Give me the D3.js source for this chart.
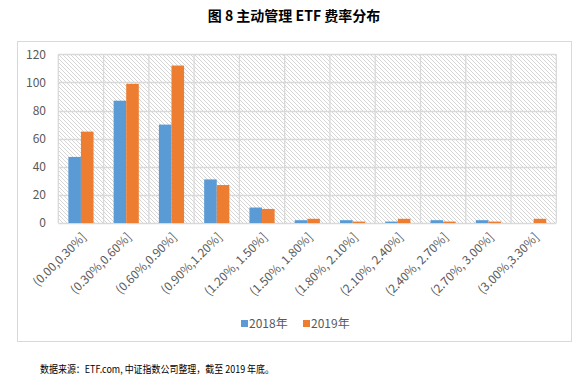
<!DOCTYPE html>
<html>
<head>
<meta charset="utf-8">
<script src="https://cdn.jsdelivr.net/npm/d3@7"></script>
<style>
  body { margin: 0; background: #fff; }
  svg { display: block; }
  text { font-family: "Noto Sans CJK SC", "Noto Sans", sans-serif; }
</style>
</head>
<body>
<svg id="chart"></svg>
<script>
// ---- data ----
const categories = ["(0.00,0.30%]", "(0.30%,0.60%]", "(0.60%,0.90%]", "(0.90%,1.20%]",
  "(1.20%, 1.50%]", "(1.50%, 1.80%]", "(1.80%, 2.10%]", "(2.10%, 2.40%]",
  "(2.40%, 2.70%]", "(2.70%, 3.00%]", "(3.00%,3.30%]"];
const series = ["2018年", "2019年"];
const values2018 = [47, 87, 70, 31, 11, 2, 2, 1, 2, 2, 0];
const values2019 = [65, 99, 112, 27, 10, 3, 1, 3, 1, 1, 3];
const yTicks = [0, 20, 40, 60, 80, 100, 120];

const width = 583, height = 377;
const colors = ["#5B9BD5", "#ED7D31"];
const gridColor = "#D9D9D9";

const plot = { left: 58.3, right: 556.3, top: 54.3, bottom: 223 };

const svg = d3.select("#chart").attr("width", width).attr("height", height);

// hatch pattern for plot background
const defs = svg.append("defs");
const pat = defs.append("pattern")
  .attr("id", "hatch")
  .attr("patternUnits", "userSpaceOnUse")
  .attr("width", 4).attr("height", 4);
pat.append("rect").attr("width", 4).attr("height", 4).attr("fill", "#fff");
[0, 1, 2, 3].forEach(i => {
  pat.append("rect").attr("x", i).attr("y", i).attr("width", 1).attr("height", 1)
    .attr("fill", "#d6d6d6");
});

// title
svg.append("text")
  .attr("x", 294).attr("y", 21)
  .attr("text-anchor", "middle")
  .attr("font-size", "14px")
  .attr("font-weight", "bold")
  .attr("fill", "#000")
  .text("图 8 主动管理 ETF 费率分布");

// chart frame
svg.append("rect")
  .attr("x", 17.5).attr("y", 41.5)
  .attr("width", 554).attr("height", 300)
  .attr("fill", "#fff")
  .attr("stroke", gridColor);

// scales
const x0 = d3.scaleBand().domain(categories).range([plot.left, plot.right]).paddingInner(0).paddingOuter(0);
const x1 = d3.scaleBand().domain(series).range([0, x0.bandwidth() * 0.556]);
const y = d3.scaleLinear().domain([0, 120]).range([plot.bottom, plot.top]);

// plot background
svg.append("rect")
  .attr("x", plot.left).attr("y", plot.top)
  .attr("width", plot.right - plot.left).attr("height", plot.bottom - plot.top)
  .attr("fill", "url(#hatch)");

// gridlines
svg.append("g")
  .selectAll("line")
  .data(yTicks)
  .join("line")
    .attr("x1", plot.left).attr("x2", plot.right)
    .attr("y1", d => Math.round(y(d)) + 0.5).attr("y2", d => Math.round(y(d)) + 0.5)
    .attr("stroke", gridColor).attr("stroke-width", 1.3);

const bounds = categories.map(c => x0(c)).concat([plot.right]);
svg.append("g")
  .selectAll("line")
  .data(bounds)
  .join("line")
    .attr("x1", d => d).attr("x2", d => d)
    .attr("y1", plot.top).attr("y2", plot.bottom)
    .attr("stroke", gridColor).attr("stroke-width", 1.3);

// y labels
svg.append("g")
  .selectAll("text")
  .data(yTicks)
  .join("text")
    .attr("x", 46).attr("y", d => y(d))
    .attr("dy", "0.35em")
    .attr("text-anchor", "end")
    .attr("font-size", "12px")
    .attr("fill", "#595959")
    .text(d => d);

// bars
const rows = categories.map((c, i) => ({ cat: c, vals: [values2018[i], values2019[i]] }));
const groupOffset = (x0.bandwidth() - x1.range()[1]) / 2;
svg.append("g")
  .selectAll("g")
  .data(rows)
  .join("g")
    .attr("transform", d => `translate(${x0(d.cat) + groupOffset},0)`)
  .selectAll("rect")
  .data(d => d.vals.map((v, k) => ({ key: series[k], v, k })))
  .join("rect")
    .attr("x", d => x1(d.key))
    .attr("y", d => y(d.v))
    .attr("width", x1.bandwidth())
    .attr("height", d => y(0) - y(d.v))
    .attr("fill", d => colors[d.k]);

// x labels
svg.append("g")
  .selectAll("text")
  .data(categories)
  .join("text")
    .attr("transform", d => `translate(${x0(d) + x0.bandwidth() / 2 + 6},${238}) rotate(-45)`)
    .attr("text-anchor", "end")
    .attr("font-size", "12px")
    .attr("fill", "#595959")
    .text(d => d);

// legend
const legend = svg.append("g").attr("transform", "translate(241,320)");
const legendX = [0, 62];
series.forEach((s, i) => {
  const g = legend.append("g").attr("transform", `translate(${legendX[i]},0)`);
  g.append("rect").attr("width", 7).attr("height", 7).attr("fill", colors[i]);
  g.append("text").attr("x", 8).attr("y", 7.5)
    .attr("font-size", "12px").attr("fill", "#595959").text(s);
});

// source note
svg.append("text")
  .attr("x", 40).attr("y", 373)
  .attr("font-size", "10.5px")
  .attr("textLength", 234)
  .attr("lengthAdjust", "spacingAndGlyphs")
  .attr("fill", "#000")
  .text("数据来源：ETF.com, 中证指数公司整理，截至 2019 年底。");
</script>
</body>
</html>
